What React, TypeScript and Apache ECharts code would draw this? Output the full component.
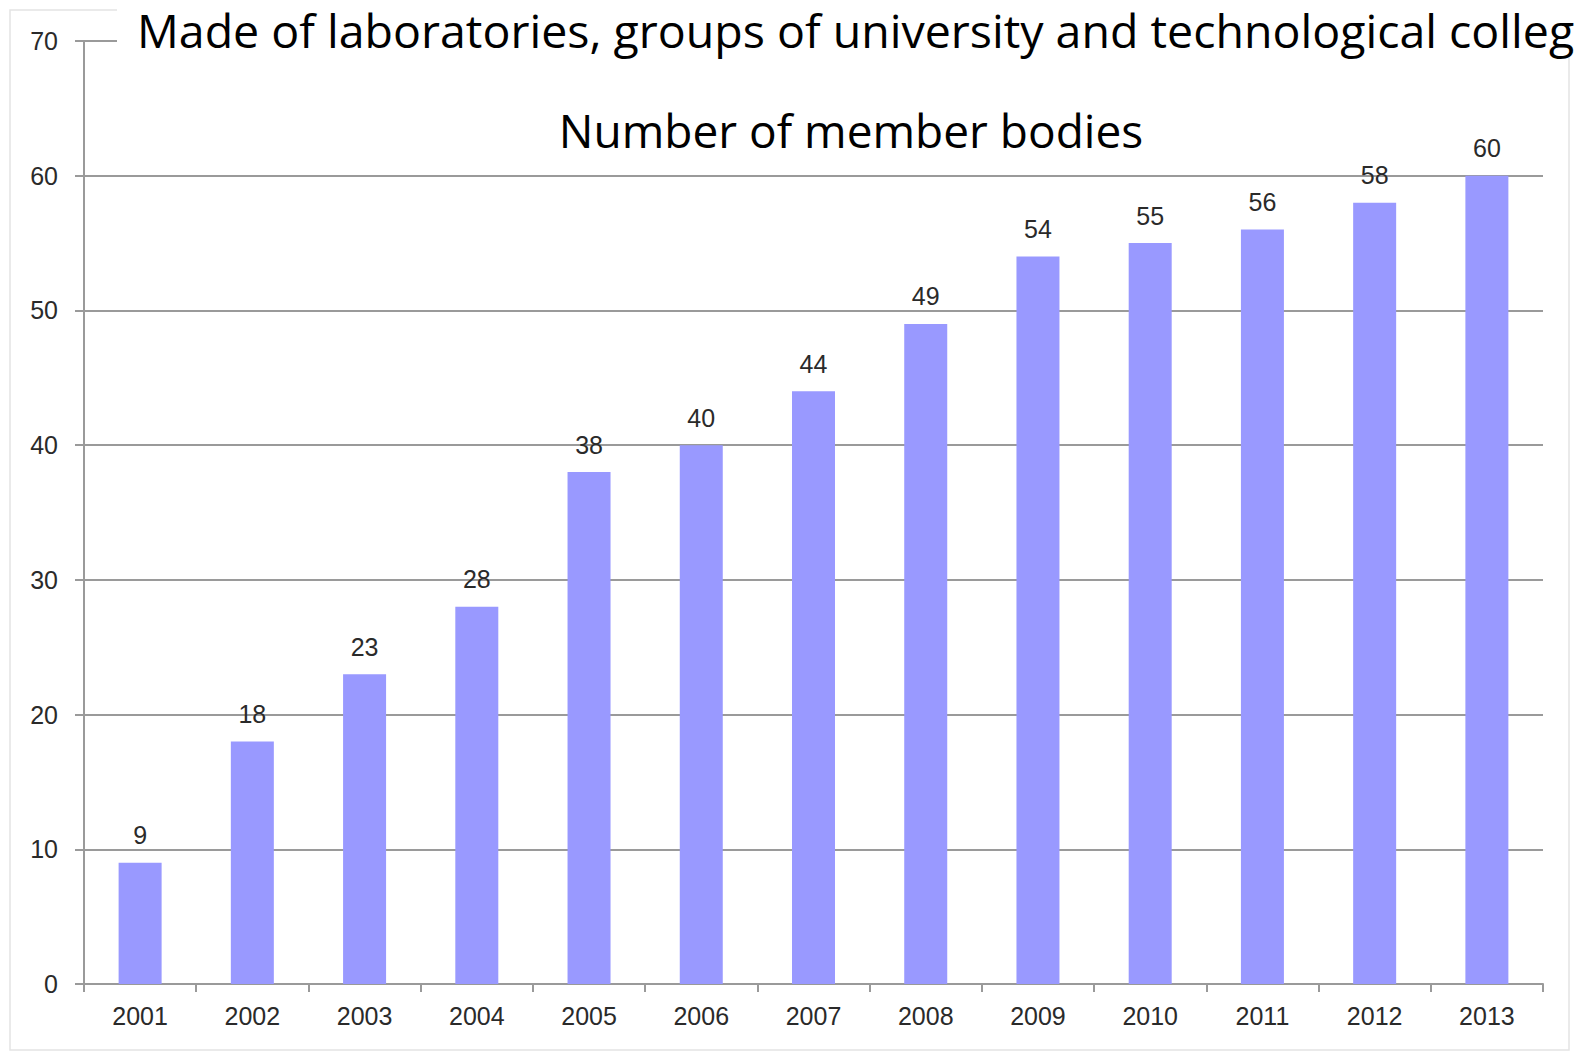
import React, { useEffect, useRef } from "react";
import * as echarts from "echarts";

const years = ["2001", "2002", "2003", "2004", "2005", "2006", "2007", "2008", "2009", "2010", "2011", "2012", "2013"];
const members = [9, 18, 23, 28, 38, 40, 44, 49, 54, 55, 56, 58, 60];
const titleText = "Made of laboratories, groups of university and technological colleg";
const subtitleText = "Number of member bodies";

export default function App() {
  const ref = useRef<HTMLDivElement>(null);
  useEffect(() => {
    if (!ref.current) return;
    const chart = echarts.init(ref.current, null, { renderer: "svg" });
    chart.setOption({
      animation: false,
      backgroundColor: "#ffffff",
      grid: { left: 84, right: 31, top: 41, bottom: 68, containLabel: false },
      xAxis: {
        type: "category",
        data: years,
        boundaryGap: true,
        axisLine: { lineStyle: { color: "#9a9a9a", width: 2 } },
        axisTick: { show: true, alignWithLabel: false, length: 8, lineStyle: { color: "#9a9a9a", width: 2 } },
        axisLabel: { color: "#2a2a2a", fontSize: 25, fontFamily: "Liberation Sans, Arial, sans-serif", margin: 19 },
        splitLine: { show: false },
      },
      yAxis: {
        type: "value",
        min: 0,
        max: 70,
        interval: 10,
        axisLine: { show: true, lineStyle: { color: "#9a9a9a", width: 2 } },
        axisTick: { show: true, length: 9, lineStyle: { color: "#9a9a9a", width: 2 } },
        axisLabel: { color: "#2a2a2a", fontSize: 25, fontFamily: "Liberation Sans, Arial, sans-serif", margin: 26 },
        splitLine: { show: true, lineStyle: { color: "#9a9a9a", width: 2 } },
      },
      series: [
        {
          type: "bar",
          data: members,
          barWidth: 43,
          itemStyle: { color: "#9999ff" },
          label: {
            show: true,
            position: "top",
            distance: 15,
            color: "#2a2a2a",
            fontSize: 25,
            fontFamily: "Liberation Sans, Arial, sans-serif",
          },
          z: 2,
        },
      ],
      graphic: [
        {
          type: "rect",
          silent: true,
          z: 0,
          shape: { x: 10, y: 10, width: 1559, height: 1040 },
          style: { fill: "none", stroke: "#e4e4e4", lineWidth: 1.5 },
        },
        {
          type: "rect",
          silent: true,
          z: 100,
          shape: { x: 117, y: 0, width: 1457, height: 56 },
          style: { fill: "#ffffff" },
        },
        {
          type: "text",
          z: 101,
          x: 137,
          y: 30,
          style: {
            text: titleText,
            fontSize: 46.5,
            fontFamily: "Open Sans, sans-serif",
            fill: "#000000",
            verticalAlign: "middle",
          },
        },
        {
          type: "text",
          z: 101,
          x: 851,
          y: 130,
          style: {
            text: subtitleText,
            fontSize: 46,
            fontFamily: "Open Sans, sans-serif",
            fill: "#000000",
            align: "center",
            verticalAlign: "middle",
          },
        },
      ],
    });
    return () => chart.dispose();
  }, []);
  return <div ref={ref} style={{ position: "fixed", left: 0, top: 0, width: 1574, height: 1052 }} />;
}
